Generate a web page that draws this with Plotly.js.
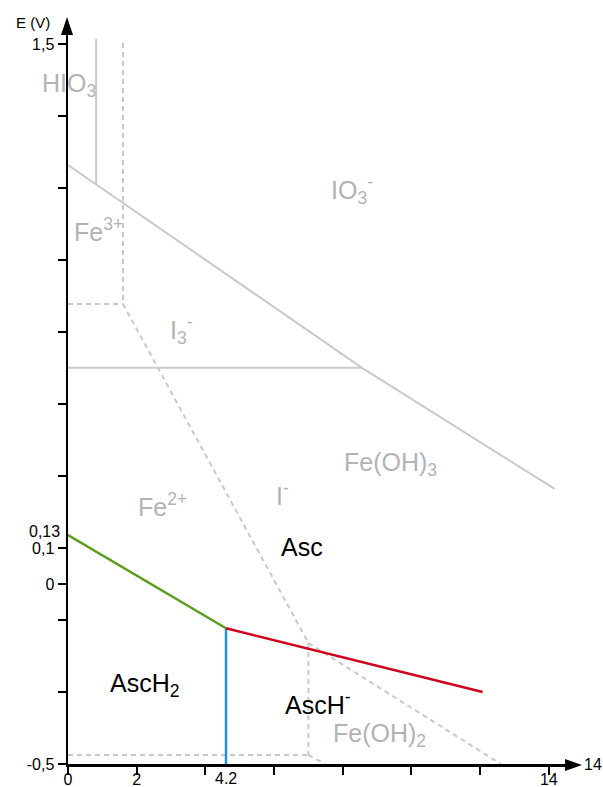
<!DOCTYPE html>
<html>
<head>
<meta charset="utf-8">
<script src="https://cdn.plot.ly/plotly-3.0.1.min.js"></script>
<style>html,body{margin:0;padding:0;background:#fff;}#chart{width:603px;height:787px;}</style>
</head>
<body>
<div id="chart"></div>
<script>
// ---- data (pH, E in V) ----
const hio3X = [0.82, 0.82];           const hio3E = [1.515, 1.11];
const io3X  = [0, 8.55, 14.17];       const io3E  = [1.164, 0.601, 0.264];
const i3X   = [0, 8.55];              const i3E   = [0.601, 0.601];

const fe3VertX = [1.6, 1.6];          const fe3VertE = [1.503, 0.778];
const fe32X    = [0, 1.6];            const fe32E    = [0.778, 0.778];
const feOH3Fe2X = [1.6, 7.0];         const feOH3Fe2E = [0.778, -0.164];
const feOH3OH2X = [7.0, 12.6];        const feOH3OH2E = [-0.164, -0.5];
const feOH2VertX = [7.0, 7.0];        const feOH2VertE = [-0.164, -0.475];
const fe2FeX   = [0, 7.0];            const fe2FeE   = [-0.475, -0.475];
const feOH2FeX = [7.0, 7.49];         const feOH2FeE = [-0.475, -0.5];

const ascH2X = [0, 4.6];              const ascH2E = [0.136, -0.123];
const pkaX   = [4.6, 4.6];            const pkaE   = [-0.123, -0.5];
const ascHX  = [4.6, 12.07];          const ascHE  = [-0.123, -0.3];

const grayLabels = ['HIO<sub>3</sub>', 'IO<sub>3</sub><sup>-</sup>', 'Fe<sup>3+</sup>', 'I<sub>3</sub><sup>-</sup>',
                    'Fe(OH)<sub>3</sub>', 'Fe<sup>2+</sup>', 'I<sup>-</sup>', 'Fe(OH)<sub>2</sub>'];
const grayLabelX = [0.03, 8.28, 0.9, 3.3, 9.39, 2.76, 6.24, 9.06];
const grayLabelE = [1.386, 1.094, 0.983, 0.706, 0.333, 0.219, 0.25, -0.419];

const blackLabels = ['Asc', 'AscH<sub>2</sub>', 'AscH<sup>-</sup>'];
const blackLabelX = [6.8, 2.22, 7.27];
const blackLabelE = [0.103, -0.28, -0.331];

const xTickVals = [0, 2, 4, 6, 8, 10, 12, 14];
const xTickText = ['0', '2', '', '', '', '', '', '14'];
const yTickVals = [-0.5, -0.3, -0.1, 0, 0.1, 0.3, 0.5, 0.7, 0.9, 1.1, 1.3, 1.5];
const yTickText = ['-0,5', '', '', '0', '0,1', '', '', '', '', '', '', '1,5'];
const extraXLabel = {x: 4.6, text: '4.2'};
const extraYLabel = {y: 0.13, text: '0,13'};

// ---- styles ----
const FONT = 'Liberation Sans, Arial, sans-serif';
const GRAY_LINE = '#c9c9c9';
const GRAY_TEXT = '#b3b3b3';
const DASH = '5px,4px';
const LABEL_SIZE = 25;
const TICK_SIZE = 16;

function seg(x, y, color, width, dash) {
  return {x: x, y: y, type: 'scatter', mode: 'lines', hoverinfo: 'skip', showlegend: false,
          line: {color: color, width: width, dash: dash || 'solid'}};
}

const traces = [
  seg(hio3X, hio3E, GRAY_LINE, 2),
  seg(io3X, io3E, GRAY_LINE, 2),
  seg(i3X, i3E, GRAY_LINE, 2),
  seg(fe3VertX, fe3VertE, GRAY_LINE, 2, DASH),
  seg(fe32X, fe32E, GRAY_LINE, 2, DASH),
  seg(feOH3Fe2X, feOH3Fe2E, GRAY_LINE, 2, DASH),
  seg(feOH3OH2X, feOH3OH2E, GRAY_LINE, 2, DASH),
  seg(feOH2VertX, feOH2VertE, GRAY_LINE, 2, DASH),
  seg(fe2FeX, fe2FeE, GRAY_LINE, 2, DASH),
  seg(feOH2FeX, feOH2FeE, GRAY_LINE, 2, DASH),
  seg(ascH2X, ascH2E, '#5a9e1c', 2.5),
  seg(pkaX, pkaE, '#2390e0', 2.5),
  seg(ascHX, ascHE, '#d0021b', 2.5)
];

const annotations = [];
grayLabels.forEach((t, i) => annotations.push({x: grayLabelX[i], y: grayLabelE[i], xref: 'x', yref: 'y', text: t,
  showarrow: false, xanchor: 'center', yanchor: 'middle', font: {family: FONT, size: LABEL_SIZE, color: GRAY_TEXT}}));
blackLabels.forEach((t, i) => annotations.push({x: blackLabelX[i], y: blackLabelE[i], xref: 'x', yref: 'y', text: t,
  showarrow: false, xanchor: 'center', yanchor: 'middle', font: {family: FONT, size: LABEL_SIZE, color: '#000'}}));
annotations.push({x: extraXLabel.x, y: 0, xref: 'x', yref: 'paper', text: extraXLabel.text, showarrow: false,
  xanchor: 'center', yanchor: 'top', yshift: -4, font: {family: FONT, size: TICK_SIZE, color: '#000'}});
annotations.push({x: 0, y: extraYLabel.y, xref: 'paper', yref: 'y', text: extraYLabel.text, showarrow: false,
  xanchor: 'right', yanchor: 'middle', xshift: -6, yshift: 6, font: {family: FONT, size: TICK_SIZE, color: '#000'}});
annotations.push({x: 0, y: 1, xref: 'paper', yref: 'paper', text: 'E (V)', showarrow: false,
  xanchor: 'right', yanchor: 'middle', xshift: -16, yshift: 13, font: {family: FONT, size: 15, color: '#000'}});
annotations.push({x: 1, y: 0, xref: 'paper', yref: 'paper', text: '14', showarrow: false,
  xanchor: 'left', yanchor: 'middle', xshift: 17, yshift: 0, font: {family: FONT, size: TICK_SIZE, color: '#000'}});

const shapes = [
  {type: 'path', xref: 'paper', yref: 'paper', xsizemode: 'pixel', ysizemode: 'pixel', xanchor: 1, yanchor: 0,
   path: 'M 0,-7 L 0,5 L 17,-1 Z', fillcolor: '#000', line: {width: 0}},
  {type: 'path', xref: 'paper', yref: 'paper', xsizemode: 'pixel', ysizemode: 'pixel', xanchor: 0, yanchor: 1,
   path: 'M -7,0 L 5,0 L -1,18 Z', fillcolor: '#000', line: {width: 0}}
];

const axisCommon = {showgrid: false, zeroline: false, showline: true, linecolor: '#000', linewidth: 2.5,
  ticks: 'outside', ticklen: 8, tickwidth: 2, tickcolor: '#000', fixedrange: true, automargin: false,
  tickfont: {family: FONT, size: TICK_SIZE, color: '#000'}};

const layout = {
  width: 603, height: 787,
  margin: {l: 68, r: 38, t: 35, b: 23},
  paper_bgcolor: '#fff', plot_bgcolor: '#fff',
  showlegend: false,
  xaxis: Object.assign({}, axisCommon, {range: [0, 14.47], tickmode: 'array', tickvals: xTickVals, ticktext: xTickText,
    ticklabelstandoff: -9}),
  yaxis: Object.assign({}, axisCommon, {range: [-0.5, 1.525], tickmode: 'array', tickvals: yTickVals, ticktext: yTickText}),
  annotations: annotations,
  shapes: shapes
};

Plotly.newPlot('chart', traces, layout, {displayModeBar: false, staticPlot: true});
</script>
</body>
</html>
